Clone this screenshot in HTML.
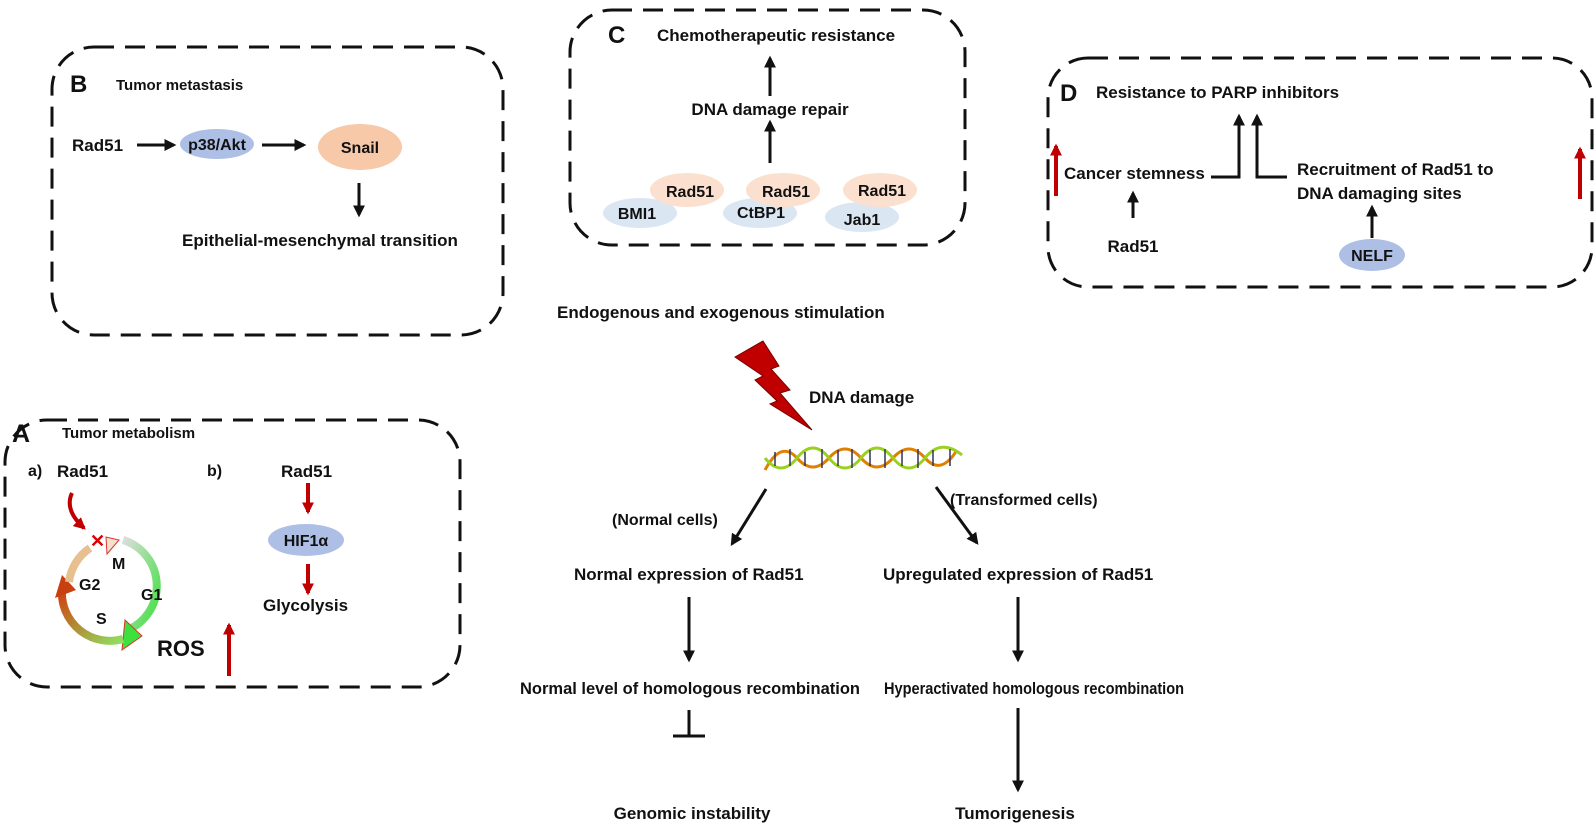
<!DOCTYPE html>
<html><head><meta charset="utf-8"><style>
html,body{margin:0;padding:0;background:#fff;}
svg text{font-family:"Liberation Sans",Arial,sans-serif;font-weight:bold;fill:#111;}
</style></head><body>
<svg width="1595" height="823" viewBox="0 0 1595 823" xmlns="http://www.w3.org/2000/svg">
<defs>
<marker id="ah" viewBox="0 0 10 10" refX="8" refY="5" markerWidth="4" markerHeight="4" orient="auto"><path d="M0,0 L10,5 L0,10 z" fill="#111"/></marker>
<marker id="rh" viewBox="0 0 10 10" refX="8" refY="5" markerWidth="3" markerHeight="3" orient="auto"><path d="M0,0 L10,5 L0,10 z" fill="#c00000"/></marker>
<linearGradient id="gc" x1="0" y1="0" x2="1" y2="1"><stop offset="0" stop-color="#ddd"/><stop offset="1" stop-color="#3ee03e"/></linearGradient>
<linearGradient id="gs" x1="0" y1="0" x2="1" y2="1"><stop offset="0" stop-color="#d04010"/><stop offset="1" stop-color="#8fe060"/></linearGradient>
</defs>
<g fill="none" stroke="#111" stroke-width="3" stroke-dasharray="20,11">
<rect x="52" y="47" width="451" height="288" rx="42"/>
<rect x="570" y="10" width="395" height="235" rx="42"/>
<rect x="1048" y="58" width="544" height="229" rx="40"/>
<rect x="5" y="420" width="455" height="267" rx="42"/>
</g>

<!-- B -->
<text x="70" y="92" font-size="24">B</text>
<text x="116" y="90" font-size="15">Tumor metastasis</text>
<text x="72" y="151" font-size="17">Rad51</text>
<line x1="137" y1="145" x2="174" y2="145" stroke="#111" stroke-width="3" marker-end="url(#ah)"/>
<ellipse cx="217" cy="144" rx="37" ry="15" fill="#aebfe6"/>
<text x="217" y="150" font-size="16" text-anchor="middle">p38/Akt</text>
<line x1="262" y1="145" x2="304" y2="145" stroke="#111" stroke-width="3" marker-end="url(#ah)"/>
<ellipse cx="360" cy="147" rx="42" ry="23" fill="#f7c9a8"/>
<text x="360" y="153" font-size="16" text-anchor="middle">Snail</text>
<line x1="359" y1="183" x2="359" y2="215" stroke="#111" stroke-width="3" marker-end="url(#ah)"/>
<text x="182" y="246" font-size="17">Epithelial-mesenchymal transition</text>

<!-- C -->
<text x="608" y="43" font-size="24">C</text>
<text x="657" y="41" font-size="17">Chemotherapeutic resistance</text>
<line x1="770" y1="96" x2="770" y2="58" stroke="#111" stroke-width="3" marker-end="url(#ah)"/>
<text x="770" y="115" font-size="17" text-anchor="middle">DNA damage repair</text>
<line x1="770" y1="163" x2="770" y2="122" stroke="#111" stroke-width="3" marker-end="url(#ah)"/>
<ellipse cx="640" cy="213" rx="37" ry="15" fill="#dbe6f3"/>
<ellipse cx="687" cy="190" rx="37" ry="17" fill="#fbe0cf"/>
<ellipse cx="760" cy="213" rx="37" ry="15" fill="#dbe6f3"/>
<ellipse cx="783" cy="190" rx="37" ry="17" fill="#fbe0cf"/>
<ellipse cx="862" cy="217" rx="37" ry="15" fill="#dbe6f3"/>
<ellipse cx="880" cy="190" rx="37" ry="17" fill="#fbe0cf"/>
<text x="690" y="197" font-size="16" text-anchor="middle">Rad51</text>
<text x="786" y="197" font-size="16" text-anchor="middle">Rad51</text>
<text x="882" y="196" font-size="16" text-anchor="middle">Rad51</text>
<text x="637" y="219" font-size="16" text-anchor="middle">BMI1</text>
<text x="761" y="218" font-size="16" text-anchor="middle">CtBP1</text>
<text x="862" y="225" font-size="16" text-anchor="middle">Jab1</text>

<!-- D -->
<text x="1060" y="101" font-size="24">D</text>
<text x="1096" y="98" font-size="17">Resistance to PARP inhibitors</text>
<line x1="1056" y1="196" x2="1056" y2="146" stroke="#c00000" stroke-width="4" marker-end="url(#rh)"/>
<text x="1064" y="179" font-size="17">Cancer stemness</text>
<polyline points="1211,177 1239,177 1239,116" fill="none" stroke="#111" stroke-width="3" marker-end="url(#ah)"/>
<polyline points="1287,177 1257,177 1257,116" fill="none" stroke="#111" stroke-width="3" marker-end="url(#ah)"/>
<text x="1297" y="175" font-size="17">Recruitment of Rad51 to</text>
<text x="1297" y="199" font-size="17">DNA damaging sites</text>
<line x1="1580" y1="199" x2="1580" y2="149" stroke="#c00000" stroke-width="4" marker-end="url(#rh)"/>
<line x1="1133" y1="218" x2="1133" y2="193" stroke="#111" stroke-width="3" marker-end="url(#ah)"/>
<text x="1133" y="252" font-size="17" text-anchor="middle">Rad51</text>
<line x1="1372" y1="238" x2="1372" y2="207" stroke="#111" stroke-width="3" marker-end="url(#ah)"/>
<ellipse cx="1372" cy="255" rx="33" ry="16" fill="#aebfe6"/>
<text x="1372" y="261" font-size="16" text-anchor="middle">NELF</text>

<!-- middle -->
<text x="557" y="318" font-size="17">Endogenous and exogenous stimulation</text>
<polygon points="735,357 763,341 779,366 771,369 790,390 780,393 812,430 770,404 777,401 755,380 763,376" fill="#c00000" stroke="#700" stroke-width="1"/>
<text x="809" y="403" font-size="17">DNA damage</text>
<g fill="none" stroke-width="3">
<path d="M765,470 Q781,440 797,458 T829,458 T861,458 T893,458 T925,458 T957,450" stroke="#e08000"/>
<path d="M765,458 Q781,478 797,458 T829,458 T861,458 T893,458 T925,458 T962,455" stroke="#9ad020"/>
</g>
<g stroke="#335" stroke-width="1.5">
<line x1="775" y1="452" x2="775" y2="466"/><line x1="790" y1="449" x2="790" y2="466"/><line x1="805" y1="452" x2="805" y2="466"/><line x1="822" y1="449" x2="822" y2="468"/><line x1="838" y1="450" x2="838" y2="466"/><line x1="852" y1="449" x2="852" y2="468"/><line x1="870" y1="450" x2="870" y2="466"/><line x1="885" y1="449" x2="885" y2="468"/><line x1="902" y1="450" x2="902" y2="466"/><line x1="918" y1="449" x2="918" y2="468"/><line x1="933" y1="450" x2="933" y2="466"/><line x1="950" y1="449" x2="950" y2="466"/>
</g>
<line x1="766" y1="489" x2="732" y2="544" stroke="#111" stroke-width="3" marker-end="url(#ah)"/>
<line x1="936" y1="487" x2="977" y2="543" stroke="#111" stroke-width="3" marker-end="url(#ah)"/>
<text x="612" y="525" font-size="16">(Normal cells)</text>
<text x="950" y="505" font-size="16">(Transformed cells)</text>
<text x="574" y="580" font-size="17">Normal expression of Rad51</text>
<text x="883" y="580" font-size="17">Upregulated expression of Rad51</text>
<line x1="689" y1="597" x2="689" y2="660" stroke="#111" stroke-width="3" marker-end="url(#ah)"/>
<line x1="1018" y1="597" x2="1018" y2="660" stroke="#111" stroke-width="3" marker-end="url(#ah)"/>
<text x="520" y="694" font-size="17" textLength="340" lengthAdjust="spacingAndGlyphs">Normal level of homologous recombination</text>
<text x="884" y="694" font-size="17" textLength="300" lengthAdjust="spacingAndGlyphs">Hyperactivated homologous recombination</text>
<line x1="689" y1="710" x2="689" y2="736" stroke="#111" stroke-width="3"/>
<line x1="673" y1="736" x2="705" y2="736" stroke="#111" stroke-width="3"/>
<line x1="1018" y1="708" x2="1018" y2="790" stroke="#111" stroke-width="3" marker-end="url(#ah)"/>
<text x="692" y="819" font-size="17" text-anchor="middle">Genomic instability</text>
<text x="1015" y="819" font-size="17" text-anchor="middle">Tumorigenesis</text>

<!-- A -->
<text x="12" y="442" font-size="25">A</text>
<text x="62" y="438" font-size="15">Tumor metabolism</text>
<text x="28" y="476" font-size="16">a)</text>
<text x="57" y="477" font-size="17">Rad51</text>
<text x="207" y="476" font-size="16">b)</text>
<text x="281" y="477" font-size="17">Rad51</text>
<path d="M72,493 Q64,510 84,528" fill="none" stroke="#c00000" stroke-width="4" marker-end="url(#rh)"/>
<path d="M123,540 A48,48 0 0 1 125,631" fill="none" stroke="url(#gc)" stroke-width="8"/>
<polygon points="125,620 142,636 122,650" fill="#3ee03e" stroke="#d33" stroke-width="1"/>
<path d="M123,639 A48,48 0 0 1 62,590" fill="none" stroke="url(#gs)" stroke-width="8"/>
<polygon points="55,598 62,575 76,590" fill="#c84010"/>
<path d="M69,582 A48,48 0 0 1 90,548" fill="none" stroke="#e8c090" stroke-width="8"/>
<polygon points="106,537 119,540 107,554" fill="#f5e0cc" stroke="#d33" stroke-width="1"/>
<text x="90" y="547" font-size="18" style="fill:#d00">✕</text>
<text x="112" y="569" font-size="16">M</text>
<text x="79" y="590" font-size="16">G2</text>
<text x="141" y="600" font-size="16">G1</text>
<text x="96" y="624" font-size="16">S</text>
<text x="157" y="656" font-size="22">ROS</text>
<line x1="229" y1="676" x2="229" y2="625" stroke="#c00000" stroke-width="4" marker-end="url(#rh)"/>
<line x1="308" y1="483" x2="308" y2="512" stroke="#c00000" stroke-width="4" marker-end="url(#rh)"/>
<ellipse cx="306" cy="540" rx="38" ry="16" fill="#aebfe6"/>
<text x="306" y="546" font-size="16" text-anchor="middle">HIF1α</text>
<line x1="308" y1="564" x2="308" y2="593" stroke="#c00000" stroke-width="4" marker-end="url(#rh)"/>
<text x="263" y="611" font-size="17">Glycolysis</text>
</svg>
</body></html>
